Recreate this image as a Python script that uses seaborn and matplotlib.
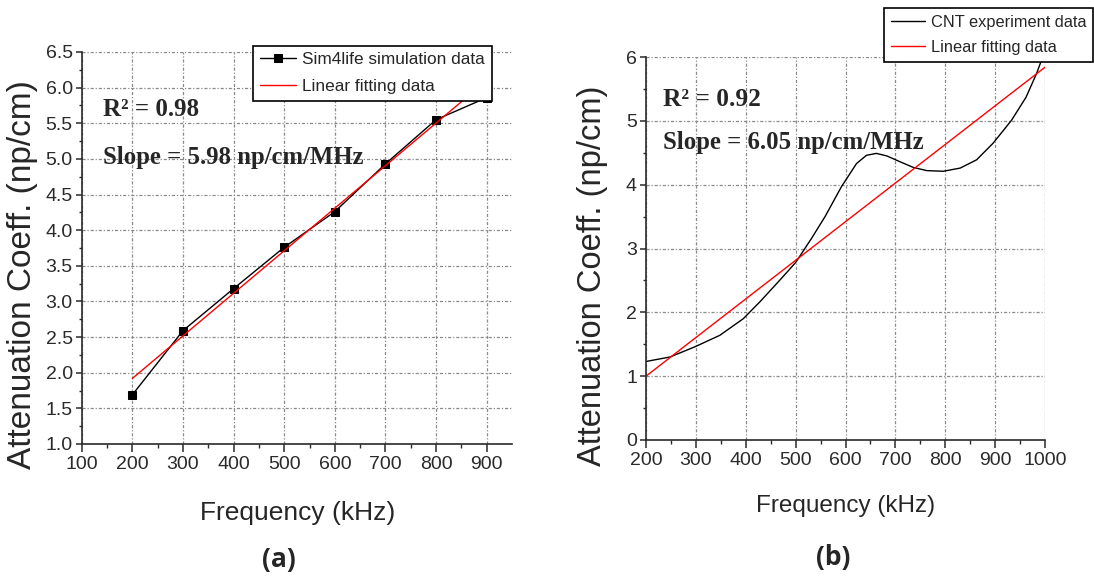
import matplotlib
matplotlib.use("Agg")
import matplotlib.pyplot as plt
import seaborn as sns
import pandas as pd

# Data
freq_a = [200, 300, 400, 500, 600, 700, 800, 900]
atten_a = [1.69, 2.59, 3.18, 3.76, 4.26, 4.93, 5.55, 5.86]
fit_freq_a = [200, 900]
fit_atten_a = [1.92, 6.10]

freq_b = [200, 248, 298, 348, 395, 429, 469, 500, 532, 559, 592, 622, 642,
          662, 683, 709, 736, 763, 796, 830, 863, 896, 933, 962, 983, 993, 1000]
atten_b = [1.23, 1.30, 1.46, 1.64, 1.90, 2.17, 2.51, 2.78, 3.16, 3.50, 3.97,
           4.33, 4.46, 4.49, 4.45, 4.36, 4.27, 4.22, 4.21, 4.26, 4.39, 4.65,
           5.01, 5.37, 5.74, 5.95, 6.10]
fit_freq_b = [200, 1000]
fit_atten_b = [1.00, 5.84]

sns.set_style("ticks")
plt.rcParams["font.family"] = ["Liberation Sans", "DejaVu Sans"]

W, H = 1094, 578
fig = plt.figure(figsize=(W / 100, H / 100), dpi=100)


def fig_box(x0, y0, x1, y1):
    return [x0 / W, 1 - y1 / H, (x1 - x0) / W, (y1 - y0) / H]


ax_a = fig.add_axes(fig_box(81.7, 52, 511.7, 444))
ax_b = fig.add_axes(fig_box(646, 57, 1045, 440))

GRID_DASH = (0, (2.5, 1.5, 1.0, 1.5))


def style_axes(ax, xlim, ylim, xmaj, ymaj, xmin, ymin, ylab_fs, xlab_fs,
               ylab_xy, xlab_xy):
    ax.set_xlim(*xlim)
    ax.set_ylim(*ylim)
    ax.set_xticks(xmaj)
    ax.set_yticks(ymaj)
    ax.set_xticks(xmin, minor=True)
    ax.set_yticks(ymin, minor=True)
    ax.grid(True, which="major", linestyle=GRID_DASH, color="#8a8a8a", linewidth=0.9)
    for s in ["top", "right"]:
        ax.spines[s].set_visible(False)
    for s in ["left", "bottom"]:
        ax.spines[s].set_linewidth(1.2)
        ax.spines[s].set_color("#2a2a2a")
    ax.tick_params(axis="x", which="major", length=5.5, width=1.1, pad=3,
                   labelsize=14, colors="#2a2a2a")
    ax.tick_params(axis="x", which="minor", length=3, width=1.0, colors="#2a2a2a")
    ax.tick_params(axis="y", which="major", length=4, width=1.1, pad=2.5,
                   labelsize=14, colors="#2a2a2a")
    ax.tick_params(axis="y", which="minor", length=2.5, width=1.0, colors="#2a2a2a")
    ax.set_xlabel("Frequency (kHz)", fontsize=xlab_fs, va="center")
    ax.set_ylabel("Attenuation Coeff. (np/cm)", fontsize=ylab_fs, va="center")
    ax.xaxis.set_label_coords(*xlab_xy)
    ax.yaxis.set_label_coords(*ylab_xy)


def add_legend(ax, x0, y0, fs):
    leg = ax.legend(loc="upper left", bbox_to_anchor=(x0 / W, 1 - y0 / H),
                    bbox_transform=fig.transFigure, fontsize=fs, frameon=True,
                    fancybox=False, edgecolor="black", framealpha=1,
                    borderaxespad=0, handlelength=2.1, handletextpad=0.35,
                    borderpad=0.4, labelspacing=0.65)
    leg.get_frame().set_linewidth(1.2)
    leg.set_zorder(10)


serif = dict(family="Liberation Serif", weight="bold", va="center",
             transform=fig.transFigure)

# Panel (a)
df_a = pd.DataFrame({"f": freq_a, "a": atten_a})
df_fa = pd.DataFrame({"f": fit_freq_a, "a": fit_atten_a})
sns.lineplot(data=df_a, x="f", y="a", ax=ax_a, color="black", linewidth=1.0,
             marker="s", markersize=6, markeredgecolor="black",
             label="Sim4life simulation data")
sns.lineplot(data=df_fa, x="f", y="a", ax=ax_a, color="red", linewidth=1.0,
             label="Linear fitting data")
style_axes(ax_a, (100, 949.4), (1.0, 6.5),
           range(100, 1000, 100), [1.0 + 0.5 * i for i in range(12)],
           range(150, 950, 100), [1.25 + 0.5 * i for i in range(11)],
           24, 19, (-0.138, 0.432), (0.501, -0.176))
add_legend(ax_a, 253, 45.5, 12.4)
fig.text(103 / W, 1 - 109 / H, "R² = 0.98", fontsize=18, **serif)
fig.text(103 / W, 1 - 157 / H, "Slope = 5.98 np/cm/MHz", fontsize=17.8, **serif)

# Panel (b)
df_b = pd.DataFrame({"f": freq_b, "a": atten_b})
df_fb = pd.DataFrame({"f": fit_freq_b, "a": fit_atten_b})
sns.lineplot(data=df_b, x="f", y="a", ax=ax_b, color="black", linewidth=1.0,
             label="CNT experiment data")
sns.lineplot(data=df_fb, x="f", y="a", ax=ax_b, color="red", linewidth=1.0,
             label="Linear fitting data")
style_axes(ax_b, (200, 1000), (0, 6),
           range(200, 1001, 100), range(0, 7),
           range(250, 1000, 100), [0.5 + i for i in range(6)],
           23.5, 17.5, (-0.134, 0.429), (0.501, -0.172))
add_legend(ax_b, 884, 8, 11.8)
fig.text(663 / W, 1 - 99 / H, "R² = 0.92", fontsize=18.3, **serif)
fig.text(663 / W, 1 - 142 / H, "Slope = 6.05 np/cm/MHz", fontsize=17.8, **serif)

fig.text(279 / W, 1 - 559 / H, "(a)", ha="center", va="center",
         family="Open Sans", weight="bold", fontsize=19)
fig.text(833 / W, 1 - 557 / H, "(b)", ha="center", va="center",
         family="Open Sans", weight="bold", fontsize=19)

fig.savefig("out.png", dpi=100)
